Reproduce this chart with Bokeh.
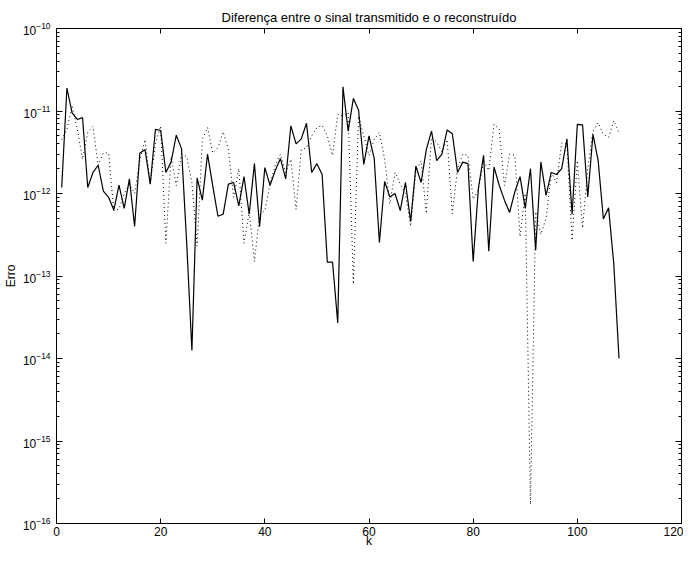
from bokeh.plotting import figure
from bokeh.models import Range1d, LogAxis, LinearAxis, FixedTicker, CustomJSTickFormatter, LogTickFormatter
from bokeh.embed import file_html
from bokeh.resources import INLINE

# ---- data ----
k = list(range(1, 109))

erro_solido = [
    1.18e-12, 1.9e-11, 9.5e-12, 7.9e-12, 8.3e-12, 1.18e-12, 1.8e-12, 2.2e-12, 1.07e-12, 9e-13,
    6.3e-13, 1.26e-12, 6.6e-13, 1.5e-12, 4.0e-13, 3.1e-12, 3.4e-12, 1.3e-12, 6e-12, 5.8e-12,
    1.8e-12, 2.4e-12, 5.1e-12, 3.5e-12, 2.5e-13, 1.25e-14, 1.55e-12, 8.3e-13, 3e-12, 1.24e-12,
    5.3e-13, 5.6e-13, 1.3e-12, 1.36e-12, 7.1e-13, 1.6e-12, 5.6e-13, 2.3e-12, 4e-13, 2.06e-12,
    1.26e-12, 1.9e-12, 2.65e-12, 1.5e-12, 6.6e-12, 4e-12, 4.6e-12, 7.1e-12, 1.8e-12, 2.3e-12,
    1.7e-12, 1.47e-13, 1.47e-13, 2.7e-14, 1.97e-11, 5.7e-12, 1.42e-11, 1.02e-11, 2.25e-12, 5e-12,
    2.65e-12, 2.55e-13, 1.4e-12, 9.1e-13, 1e-12, 6.2e-13, 1.36e-12, 4.6e-13, 2.15e-12, 1.36e-12,
    3.4e-12, 5.7e-12, 2.5e-12, 3e-12, 5.9e-12, 5.3e-12, 1.8e-12, 2.4e-12, 2.3e-12, 1.5e-13,
    1.15e-12, 2.9e-12, 2e-13, 2.1e-12, 1.26e-12, 8.3e-13, 5.9e-13, 1.05e-12, 1.6e-12, 6.6e-13,
    2e-12, 2.06e-13, 2.4e-12, 9.5e-13, 1.8e-12, 1.7e-12, 2e-12, 4.6e-12, 5.6e-13, 6.9e-12,
    6.8e-12, 9.1e-13, 5.2e-12, 2.5e-12, 4.9e-13, 6.7e-13, 1.4e-13, 1e-14,
]

erro_pontilhado = [
    4.5e-12, 6e-12, 1.15e-11, 6e-12, 2.6e-12, 5.5e-12, 6.5e-12, 2.2e-12, 3.1e-12, 3.1e-12,
    6.2e-13, 6.5e-13, 1.0e-12, 1.3e-12, 1.0e-12, 2.5e-12, 4.5e-12, 1.3e-12, 4e-12, 6.6e-12,
    2.5e-13, 2.8e-12, 1.25e-12, 3e-12, 2.8e-12, 1.35e-12, 2.3e-13, 4.5e-12, 6.3e-12, 3.1e-12,
    3.6e-12, 5.6e-12, 3.4e-12, 9e-13, 2e-12, 2.5e-13, 5.9e-13, 1.5e-13, 5.5e-13, 6.2e-13,
    1.3e-12, 2.2e-12, 3e-12, 1.8e-12, 2.6e-12, 6.4e-13, 3.4e-12, 3.6e-12, 5e-12, 6.3e-12,
    6.7e-12, 5e-12, 2.9e-12, 9.1e-12, 8.7e-12, 9.5e-12, 8e-14, 8.7e-12, 5e-12, 2.9e-12,
    4.5e-12, 5.5e-12, 2.6e-12, 7.5e-13, 1.8e-12, 1.3e-12, 1.0e-12, 4e-13, 1.9e-12, 2.5e-12,
    5.7e-13, 4.8e-12, 4.2e-12, 3.2e-12, 4.5e-12, 5.7e-13, 2e-12, 3e-12, 2.9e-12, 8.5e-13,
    1.1e-12, 2.5e-12, 1.9e-12, 6.9e-12, 6e-12, 1.25e-12, 3e-12, 2.9e-12, 3e-13, 1e-12,
    1.7e-16, 6e-13, 3.2e-13, 5e-13, 1.8e-12, 1.35e-12, 4.1e-12, 4e-12, 2.7e-13, 2.5e-12,
    3.8e-13, 2e-12, 5.7e-12, 7.2e-12, 5.2e-12, 4.8e-12, 7.6e-12, 5.5e-12,
]

x_ticks = [0, 20, 40, 60, 80, 100, 120]
y_exponents = [-16, -15, -14, -13, -12, -11, -10]

title_text = "Diferença entre o sinal transmitido e o reconstruído"
x_label = "k"
y_label = "Erro"

FONT = "Liberation Sans"

y_major = [10.0 ** e for e in y_exponents]
y_minor = [m * 10.0 ** e for e in y_exponents[:-1] for m in range(2, 10)]

p = figure(width=683, height=550, output_backend="svg", toolbar_location=None,
           x_range=Range1d(0, 120), y_range=Range1d(1e-16, 1e-10),
           y_axis_type="log",
           min_border_left=52, min_border_right=2, min_border_top=28, min_border_bottom=26)
p.background_fill_color = "white"
p.border_fill_color = "white"
p.outline_line_color = "black"
p.outline_line_width = 1
p.xgrid.visible = False
p.ygrid.visible = False

p.title.text = title_text
p.title.align = "center"
p.title.text_font = FONT
p.title.text_font_size = "13px"
p.title.text_font_style = "normal"
p.title.text_color = "black"
p.title.standoff = 7


def blank_labels(ax):
    ax.formatter = CustomJSTickFormatter(code="return '';")
    ax.major_label_text_font_size = "1px"
    ax.major_label_standoff = 0


def style_x(ax, labels=True):
    ax.ticker = FixedTicker(ticks=x_ticks, minor_ticks=[])
    ax.major_tick_in = 5
    ax.major_tick_out = 0
    ax.minor_tick_in = 0
    ax.minor_tick_out = 0
    ax.axis_line_color = "black"
    ax.major_tick_line_color = "black"
    if labels:
        ax.major_label_text_font = FONT
        ax.major_label_text_font_size = "12px"
        ax.major_label_text_color = "black"
        ax.major_label_standoff = 3
    else:
        blank_labels(ax)


def style_y(ax, labels=True):
    ax.ticker = FixedTicker(ticks=y_major, minor_ticks=y_minor)
    ax.major_tick_in = 6
    ax.major_tick_out = 0
    ax.minor_tick_in = 3
    ax.minor_tick_out = 0
    ax.axis_line_color = "black"
    ax.major_tick_line_color = "black"
    ax.minor_tick_line_color = "black"
    if labels:
        ax.formatter = LogTickFormatter()
        ax.major_label_text_font = FONT
        ax.major_label_text_font_size = "12px"
        ax.major_label_text_color = "black"
        ax.major_label_standoff = 6
    else:
        blank_labels(ax)


xa = p.xaxis[0]
style_x(xa)
xa.axis_label = x_label
xa.axis_label_text_font = FONT
xa.axis_label_text_font_size = "12px"
xa.axis_label_text_font_style = "normal"
xa.axis_label_text_color = "black"
xa.axis_label_standoff = -5

ya = p.yaxis[0]
style_y(ya)
ya.axis_label = y_label
ya.axis_label_text_font = FONT
ya.axis_label_text_font_size = "12px"
ya.axis_label_text_font_style = "normal"
ya.axis_label_text_color = "black"
ya.axis_label_standoff = 2

top = LinearAxis()
style_x(top, labels=False)
p.add_layout(top, "above")
right = LogAxis()
style_y(right, labels=False)
p.add_layout(right, "right")

# series
p.line(k, erro_pontilhado, line_color="black", line_width=1, line_dash="1 3")
p.line(k, erro_solido, line_color="black", line_width=1.2)

open("out.html", "w").write(file_html(p, INLINE))
